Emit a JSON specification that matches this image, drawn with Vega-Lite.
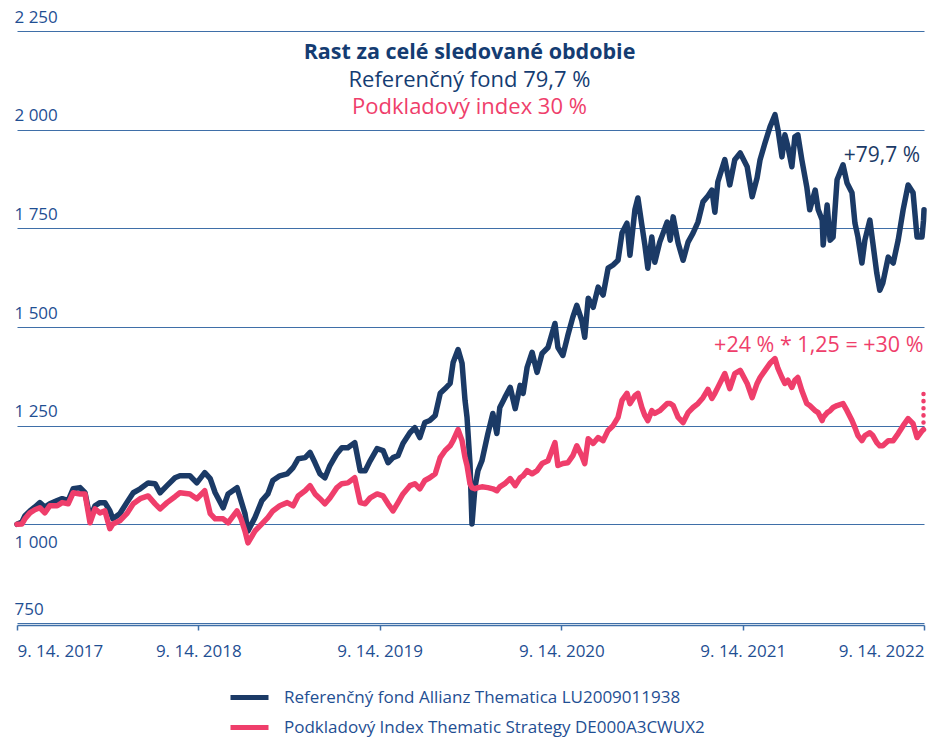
{
  "$schema": "https://vega.github.io/schema/vega-lite/v6.json",
  "width": 907,
  "height": 592,
  "autosize": "none",
  "padding": {"left": 17, "top": 31, "right": 14, "bottom": 115},
  "background": "white",
  "config": {"view": {"stroke": null}, "font": "Open Sans"},
  "datasets": {
    "main": [
      {"d":"2017-09-14","f":1000,"i":1000},{"d":"2017-09-24","f":1006,"i":1001},{"d":"2017-09-30","f":1022,"i":1014},{"d":"2017-10-10","f":1034,"i":1029},
      {"d":"2017-10-20","f":1044,"i":1037},{"d":"2017-10-30","f":1055,"i":1042},{"d":"2017-11-09","f":1044,"i":1029},{"d":"2017-11-19","f":1052,"i":1047},
      {"d":"2017-12-04","f":1060,"i":1047},{"d":"2017-12-14","f":1065,"i":1055},{"d":"2017-12-26","f":1060,"i":1052},{"d":"2018-01-05","f":1090,"i":1080},
      {"d":"2018-01-19","f":1093,"i":1077},{"d":"2018-01-29","f":1080,"i":1077},{"d":"2018-02-08","f":1017,"i":1004},{"d":"2018-02-18","f":1047,"i":1039},
      {"d":"2018-02-28","f":1055,"i":1029},{"d":"2018-03-10","f":1055,"i":1034},{"d":"2018-03-20","f":1034,"i":989},{"d":"2018-03-26","f":1014,"i":1001},
      {"d":"2018-04-09","f":1027,"i":1009},{"d":"2018-04-23","f":1055,"i":1027},{"d":"2018-05-06","f":1080,"i":1052},{"d":"2018-05-20","f":1090,"i":1065},
      {"d":"2018-06-05","f":1105,"i":1072},{"d":"2018-06-19","f":1103,"i":1052},{"d":"2018-06-29","f":1080,"i":1039},{"d":"2018-07-13","f":1098,"i":1055},
      {"d":"2018-07-29","f":1118,"i":1070},{"d":"2018-08-08","f":1123,"i":1080},{"d":"2018-08-28","f":1123,"i":1077},{"d":"2018-09-11","f":1105,"i":1065},
      {"d":"2018-09-27","f":1131,"i":1085},{"d":"2018-10-08","f":1116,"i":1027},{"d":"2018-10-18","f":1080,"i":1014},{"d":"2018-11-03","f":1042,"i":1014},
      {"d":"2018-11-13","f":1077,"i":1004},{"d":"2018-12-01","f":1093,"i":1034},{"d":"2018-12-09","f":1060,"i":1014},{"d":"2018-12-17","f":1027,"i":983},
      {"d":"2018-12-23","f":983,"i":953},{"d":"2019-01-06","f":1017,"i":983},{"d":"2019-01-20","f":1060,"i":1001},{"d":"2019-02-01","f":1077,"i":1017},
      {"d":"2019-02-11","f":1111,"i":1034},{"d":"2019-02-25","f":1123,"i":1047},{"d":"2019-03-12","f":1128,"i":1055},{"d":"2019-03-24","f":1144,"i":1047},
      {"d":"2019-04-03","f":1166,"i":1072},{"d":"2019-04-17","f":1169,"i":1085},{"d":"2019-04-27","f":1182,"i":1098},{"d":"2019-05-07","f":1156,"i":1077},
      {"d":"2019-05-17","f":1128,"i":1065},{"d":"2019-05-27","f":1118,"i":1052},{"d":"2019-06-06","f":1149,"i":1067},{"d":"2019-06-20","f":1179,"i":1093},
      {"d":"2019-06-30","f":1194,"i":1103},{"d":"2019-07-12","f":1194,"i":1105},{"d":"2019-07-26","f":1207,"i":1118},{"d":"2019-08-06","f":1136,"i":1055},
      {"d":"2019-08-16","f":1136,"i":1052},{"d":"2019-08-26","f":1161,"i":1067},{"d":"2019-09-09","f":1192,"i":1077},{"d":"2019-09-21","f":1187,"i":1072},
      {"d":"2019-10-01","f":1156,"i":1052},{"d":"2019-10-11","f":1169,"i":1034},{"d":"2019-10-21","f":1174,"i":1055},{"d":"2019-10-31","f":1205,"i":1077},
      {"d":"2019-11-14","f":1232,"i":1098},{"d":"2019-11-24","f":1245,"i":1103},{"d":"2019-12-04","f":1220,"i":1090},{"d":"2019-12-14","f":1258,"i":1111},
      {"d":"2019-12-24","f":1263,"i":1118},{"d":"2020-01-04","f":1276,"i":1128},{"d":"2020-01-14","f":1332,"i":1169},{"d":"2020-01-24","f":1344,"i":1187},
      {"d":"2020-02-03","f":1357,"i":1199},{"d":"2020-02-09","f":1410,"i":1212},{"d":"2020-02-19","f":1443,"i":1240},{"d":"2020-02-27","f":1408,"i":1212},
      {"d":"2020-03-04","f":1314,"i":1169},{"d":"2020-03-08","f":1271,"i":1149},{"d":"2020-03-14","f":1154,"i":1103},{"d":"2020-03-18","f":1001,"i":1093},
      {"d":"2020-03-24","f":1093,"i":1090},{"d":"2020-03-30","f":1136,"i":1093},{"d":"2020-04-07","f":1161,"i":1095},{"d":"2020-04-19","f":1230,"i":1093},
      {"d":"2020-04-29","f":1281,"i":1090},{"d":"2020-05-07","f":1230,"i":1085},{"d":"2020-05-13","f":1296,"i":1095},{"d":"2020-05-23","f":1321,"i":1103},
      {"d":"2020-06-03","f":1347,"i":1116},{"d":"2020-06-13","f":1293,"i":1098},{"d":"2020-06-23","f":1352,"i":1118},{"d":"2020-06-29","f":1332,"i":1123},
      {"d":"2020-07-07","f":1398,"i":1136},{"d":"2020-07-17","f":1436,"i":1128},{"d":"2020-07-27","f":1385,"i":1136},{"d":"2020-08-06","f":1433,"i":1154},
      {"d":"2020-08-18","f":1448,"i":1161},{"d":"2020-09-01","f":1509,"i":1207},{"d":"2020-09-07","f":1448,"i":1149},{"d":"2020-09-17","f":1428,"i":1154},
      {"d":"2020-09-27","f":1479,"i":1156},{"d":"2020-10-07","f":1525,"i":1174},{"d":"2020-10-15","f":1555,"i":1199},{"d":"2020-10-25","f":1517,"i":1174},
      {"d":"2020-10-31","f":1474,"i":1154},{"d":"2020-11-07","f":1573,"i":1217},{"d":"2020-11-17","f":1550,"i":1205},{"d":"2020-11-27","f":1601,"i":1220},
      {"d":"2020-12-07","f":1581,"i":1212},{"d":"2020-12-17","f":1649,"i":1238},{"d":"2020-12-27","f":1657,"i":1250},{"d":"2021-01-06","f":1669,"i":1271},
      {"d":"2021-01-14","f":1738,"i":1314},{"d":"2021-01-24","f":1763,"i":1332},{"d":"2021-01-30","f":1682,"i":1306},{"d":"2021-02-09","f":1797,"i":1326},
      {"d":"2021-02-15","f":1827,"i":1332},{"d":"2021-02-23","f":1758,"i":1296},{"d":"2021-03-01","f":1708,"i":1276},{"d":"2021-03-07","f":1649,"i":1263},
      {"d":"2021-03-15","f":1728,"i":1288},{"d":"2021-03-21","f":1664,"i":1281},{"d":"2021-03-31","f":1715,"i":1288},{"d":"2021-04-15","f":1766,"i":1306},
      {"d":"2021-04-21","f":1720,"i":1306},{"d":"2021-04-27","f":1779,"i":1301},{"d":"2021-05-07","f":1713,"i":1271},{"d":"2021-05-17","f":1669,"i":1258},
      {"d":"2021-05-27","f":1715,"i":1283},{"d":"2021-06-06","f":1738,"i":1296},{"d":"2021-06-16","f":1766,"i":1306},{"d":"2021-06-26","f":1817,"i":1321},
      {"d":"2021-07-06","f":1832,"i":1342},{"d":"2021-07-14","f":1847,"i":1319},{"d":"2021-07-20","f":1791,"i":1332},{"d":"2021-07-26","f":1868,"i":1347},
      {"d":"2021-08-09","f":1924,"i":1382},{"d":"2021-08-19","f":1860,"i":1344},{"d":"2021-08-29","f":1924,"i":1382},{"d":"2021-09-09","f":1941,"i":1390},
      {"d":"2021-09-23","f":1906,"i":1357},{"d":"2021-10-03","f":1830,"i":1321},{"d":"2021-10-13","f":1878,"i":1357},{"d":"2021-10-19","f":1924,"i":1372},
      {"d":"2021-10-29","f":1967,"i":1390},{"d":"2021-11-08","f":2007,"i":1408},{"d":"2021-11-18","f":2038,"i":1420},{"d":"2021-11-24","f":2000,"i":1395},
      {"d":"2021-12-02","f":1931,"i":1372},{"d":"2021-12-08","f":1987,"i":1357},{"d":"2021-12-14","f":1957,"i":1365},{"d":"2021-12-22","f":1906,"i":1347},
      {"d":"2021-12-28","f":1982,"i":1365},{"d":"2022-01-03","f":1987,"i":1372},{"d":"2022-01-11","f":1924,"i":1339},{"d":"2022-01-21","f":1855,"i":1306},
      {"d":"2022-01-27","f":1797,"i":1301},{"d":"2022-02-07","f":1847,"i":1288},{"d":"2022-02-13","f":1797,"i":1283},{"d":"2022-02-21","f":1771,"i":1263},
      {"d":"2022-02-23","f":1708,"i":1271},{"d":"2022-03-03","f":1809,"i":1283},{"d":"2022-03-09","f":1720,"i":1288},{"d":"2022-03-15","f":1728,"i":1296},
      {"d":"2022-03-23","f":1873,"i":1301},{"d":"2022-04-04","f":1911,"i":1306},{"d":"2022-04-12","f":1865,"i":1288},{"d":"2022-04-22","f":1840,"i":1263},
      {"d":"2022-04-28","f":1763,"i":1245},{"d":"2022-05-04","f":1728,"i":1225},{"d":"2022-05-12","f":1662,"i":1212},{"d":"2022-05-18","f":1720,"i":1225},
      {"d":"2022-05-28","f":1771,"i":1232},{"d":"2022-06-03","f":1713,"i":1225},{"d":"2022-06-11","f":1636,"i":1207},{"d":"2022-06-17","f":1593,"i":1199},
      {"d":"2022-06-23","f":1611,"i":1199},{"d":"2022-07-04","f":1677,"i":1212},{"d":"2022-07-14","f":1662,"i":1212},{"d":"2022-07-24","f":1720,"i":1230},
      {"d":"2022-08-03","f":1797,"i":1250},{"d":"2022-08-13","f":1860,"i":1268},{"d":"2022-08-23","f":1840,"i":1255},{"d":"2022-08-31","f":1728,"i":1220},
      {"d":"2022-09-10","f":1728,"i":1237},{"d":"2022-09-13","f":1770,"i":1240},{"d":"2022-09-14","f":1797,"i":null}
    ],
    "dots": [{"d":"2022-09-13","v":1240},{"d":"2022-09-13","v":1342}],
    "title": [{"d":"2020-03-13","v":2179,"t":"Rast za celé sledované obdobie"}],
    "navyText": [{"d":"2020-03-13","v":2108,"t":"Referenčný fond 79,7 %"}],
    "pinkText": [{"d":"2020-03-13","v":2040,"t":"Podkladový index 30 %"}],
    "navyNote": [{"d":"2022-09-06","v":1919,"t":"+79,7 %"}],
    "pinkNote": [{"d":"2022-09-13","v":1436,"t":"+24 % * 1,25 = +30 %"}]
  },
  "encoding": {
    "x": {
      "field": "d", "type": "temporal",
      "scale": {"type": "utc", "domain": [{"year":2017,"month":9,"date":14,"utc":true},{"year":2022,"month":9,"date":14,"utc":true}]},
      "axis": {
        "title": null, "grid": false, "offset": 2,
        "values": [{"year":2017,"month":9,"date":14,"utc":true},{"year":2018,"month":9,"date":14,"utc":true},{"year":2019,"month":9,"date":14,"utc":true},{"year":2020,"month":9,"date":14,"utc":true},{"year":2021,"month":9,"date":14,"utc":true},{"year":2022,"month":9,"date":14,"utc":true}],
        "format": "%-m. %d. %Y", "labelFlush": true, "labelOverlap": false,
        "domainColor": "#3f6fa8", "domainWidth": 1.5, "tickColor": "#3f6fa8", "tickSize": 5, "tickWidth": 1.5,
        "labelPadding": 13, "labelFont": "Open Sans", "labelFontSize": 17, "labelColor": "#1f4f93"
      }
    },
    "y": {
      "field": "v", "type": "quantitative",
      "scale": {"domain": [750, 2250], "nice": false, "zero": false},
      "axis": {
        "title": null, "domain": false, "ticks": false, "tickSize": 0, "grid": true, "gridColor": "#3f6fa8", "gridWidth": 1,
        "values": [750, 1000, 1250, 1500, 1750, 2000, 2250],
        "labelExpr": "replace(format(datum.value, ','), ',', ' ')",
        "labelAlign": "left", "labelBaseline": "alphabetic", "labelPadding": 3,
        "labelOffset": {"condition": {"test": "datum.value == 1000", "value": 23}, "value": -9},
        "labelFont": "Open Sans", "labelFontSize": 17, "labelColor": "#1f4f93", "labelBound": false, "labelOverlap": false
      }
    }
  },
  "layer": [
    {
      "data": {"name": "main"},
      "transform": [{"fold": ["f", "i"], "as": ["s", "v"]}],
      "mark": {"type": "line", "strokeWidth": 5.5, "strokeJoin": "round", "strokeCap": "round"},
      "encoding": {
        "color": {
          "field": "s", "type": "nominal",
          "scale": {"domain": ["f", "i"], "range": ["#1b3a66", "#ef3e6b"]},
          "legend": {
            "orient": "none", "legendX": 220, "legendY": 654, "title": null,
            "labelExpr": "datum.label == 'f' ? 'Referenčný fond Allianz Thematica LU2009011938' : 'Podkladový Index Thematic Strategy DE000A3CWUX2'",
            "symbolType": "M-1.9,0L1.9,0", "symbolSize": 400, "symbolStrokeWidth": 5, "symbolFillColor": "transparent",
            "labelFont": "Open Sans", "labelFontSize": 17, "labelColor": "#1f4f93", "labelOffset": 22, "rowPadding": 7, "labelLimit": 600
          }
        }
      }
    },
    {
      "data": {"name": "dots"},
      "mark": {"type": "line", "color": "#ef3e6b", "strokeWidth": 4.5, "strokeCap": "round", "strokeDash": [0.1, 7]},
      "encoding": {}
    },
    {
      "data": {"name": "title"},
      "mark": {"type": "text", "align": "center", "baseline": "alphabetic", "font": "Open Sans", "fontWeight": "bold", "fontSize": 21.5, "color": "#143c72"},
      "encoding": {"text": {"field": "t"}}
    },
    {
      "data": {"name": "navyText"},
      "mark": {"type": "text", "align": "center", "baseline": "alphabetic", "font": "Open Sans", "fontSize": 22, "color": "#143c72"},
      "encoding": {"text": {"field": "t"}}
    },
    {
      "data": {"name": "pinkText"},
      "mark": {"type": "text", "align": "center", "baseline": "alphabetic", "font": "Open Sans", "fontSize": 22, "color": "#ef3e6b"},
      "encoding": {"text": {"field": "t"}}
    },
    {
      "data": {"name": "navyNote"},
      "mark": {"type": "text", "align": "right", "baseline": "alphabetic", "font": "Open Sans", "fontSize": 21, "color": "#1b3a66"},
      "encoding": {"text": {"field": "t"}}
    },
    {
      "data": {"name": "pinkNote"},
      "mark": {"type": "text", "align": "right", "baseline": "alphabetic", "font": "Open Sans", "fontSize": 21.5, "color": "#ef3e6b"},
      "encoding": {"text": {"field": "t"}}
    }
  ]
}
